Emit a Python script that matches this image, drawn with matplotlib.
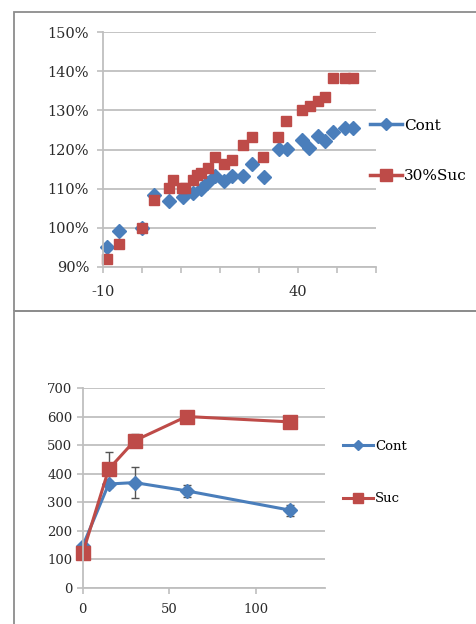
import matplotlib.pyplot as plt
from matplotlib.patches import Rectangle
from matplotlib.ticker import FuncFormatter

plt.rcParams['font.family'] = ['DejaVu Serif']

# top chart: relative growth (%)
cont_x = [-9, -6, 0, 3, 7, 10.5, 13, 15, 16.7, 18.8, 21, 23, 26, 28.3, 31.3,
          35, 37.2, 41, 42.9, 45, 47, 49, 52, 54]
cont_y = [95, 99.2, 100, 108.5, 106.8, 108, 109, 110, 111.4, 113.3, 112, 113.3,
          113.3, 116.3, 113.1, 120.2, 120.2, 122.4, 120.4, 123.4, 122.1, 124.4,
          125.4, 125.4]
suc_x = [-9, -6, 0, 3, 7, 8, 10.2, 11, 13, 14, 15, 17, 18.8, 21, 23, 26, 28.1,
         31.1, 34.8, 36.9, 41, 43, 45, 47, 49, 52, 54]
suc_y = [92.1, 96, 100, 107, 110.1, 112.2, 110.1, 110.1, 112.3, 113.4, 114,
         115.2, 118.2, 116.2, 117.2, 121.2, 123.2, 118.2, 123.2, 127.2, 130.2,
         131.2, 132.3, 133.3, 138.2, 138.2, 138.2]

# bottom chart: time course
t = [0, 15, 30, 60, 120]
cont_v = [146, 364, 369, 340, 272]
cont_err = [0, 12, 54, 21, 20]
suc_v = [121, 416, 516, 601, 582]
suc_err = [0, 62, 22, 8, 8]

BLUE = '#4A7EBB'
RED = '#BE4B48'
GRID = '#BFBFBF'
W, H = 476, 624

fig = plt.figure(figsize=(W / 100, H / 100), dpi=100)

# outer chart frames
fig.patches.append(Rectangle((14 / W, 1 - 310.7 / H), 1, (310.7 - 12) / H,
                             transform=fig.transFigure, fill=False,
                             edgecolor='#8C8C8C', linewidth=1.3))
fig.patches.append(Rectangle((14 / W, -0.1), 1, 0.1 + 1 - 310.7 / H,
                             transform=fig.transFigure, fill=False,
                             edgecolor='#8C8C8C', linewidth=1.3))


def style_axes(ax, size):
    ax.grid(axis='y', color=GRID, linewidth=1.3)
    ax.set_axisbelow(True)
    for s in ('top', 'right'):
        ax.spines[s].set_visible(False)
    for s in ('left', 'bottom'):
        ax.spines[s].set_color(GRID)
        ax.spines[s].set_linewidth(1.3)
    ax.tick_params(colors=GRID, labelcolor='#2a2a2a', length=4, width=1.2,
                   labelsize=size)


# ---- top chart
ax1 = fig.add_axes([103 / W, 1 - 267 / H, 273 / W, 235 / H])
ax1.plot(cont_x, cont_y, linestyle='none', marker='D', markersize=7.5,
         color=BLUE, label='Cont', clip_on=False)
ax1.plot(suc_x, suc_y, linestyle='none', marker='s', markersize=7,
         color=RED, label='30%Suc', clip_on=False)
ax1.set_xlim(-10, 60)
ax1.set_ylim(90, 150)
ax1.set_xticks(range(-10, 61, 10))
ax1.set_xticklabels(['-10', '', '', '', '', '40', '', ''])
ax1.set_yticks(range(90, 151, 10))
ax1.yaxis.set_major_formatter(FuncFormatter(lambda v, p: f'{v:.0f}%'))
style_axes(ax1, 10.5)
ax1.tick_params(axis='x', pad=9)
ax1.tick_params(axis='y', pad=6)

fig.legend(handles=[plt.Line2D([], [], color=BLUE, lw=2.5, marker='D', markersize=6),
                    plt.Line2D([], [], color=RED, lw=2.5, marker='s', markersize=8)],
           labels=['Cont', '30%Suc'], loc='upper left',
           bbox_to_anchor=(356 / W, 1 - 105 / H), frameon=False,
           fontsize=11, handlelength=2.1, handletextpad=0.15, labelspacing=2.4)

# ---- bottom chart
ax2 = fig.add_axes([82.7 / W, 1 - 587.7 / H, 242.3 / W, 199.4 / H])
ax2.errorbar(t, cont_v, yerr=cont_err, color=BLUE, lw=2.2, marker='D',
             markersize=7, ecolor='#555555', elinewidth=1, capsize=3,
             label='Cont', clip_on=False)
ax2.errorbar(t, suc_v, yerr=suc_err, color=RED, lw=2.2, marker='s',
             markersize=10, ecolor='#555555', elinewidth=1, capsize=3,
             label='Suc', clip_on=False)
ax2.set_xlim(0, 140)
ax2.set_ylim(0, 700)
ax2.set_xticks([0, 50, 100])
ax2.set_yticks(range(0, 701, 100))
style_axes(ax2, 9.5)
ax2.tick_params(axis='x', pad=7)

fig.legend(handles=[plt.Line2D([], [], color=BLUE, lw=2.2, marker='D', markersize=5),
                    plt.Line2D([], [], color=RED, lw=2.2, marker='s', markersize=7)],
           labels=['Cont', 'Suc'], loc='upper left',
           bbox_to_anchor=(331 / W, 1 - 428 / H), frameon=False,
           fontsize=9.5, handlelength=2.3, handletextpad=0.15, labelspacing=3.0)

fig.savefig('out.png', dpi=100)
